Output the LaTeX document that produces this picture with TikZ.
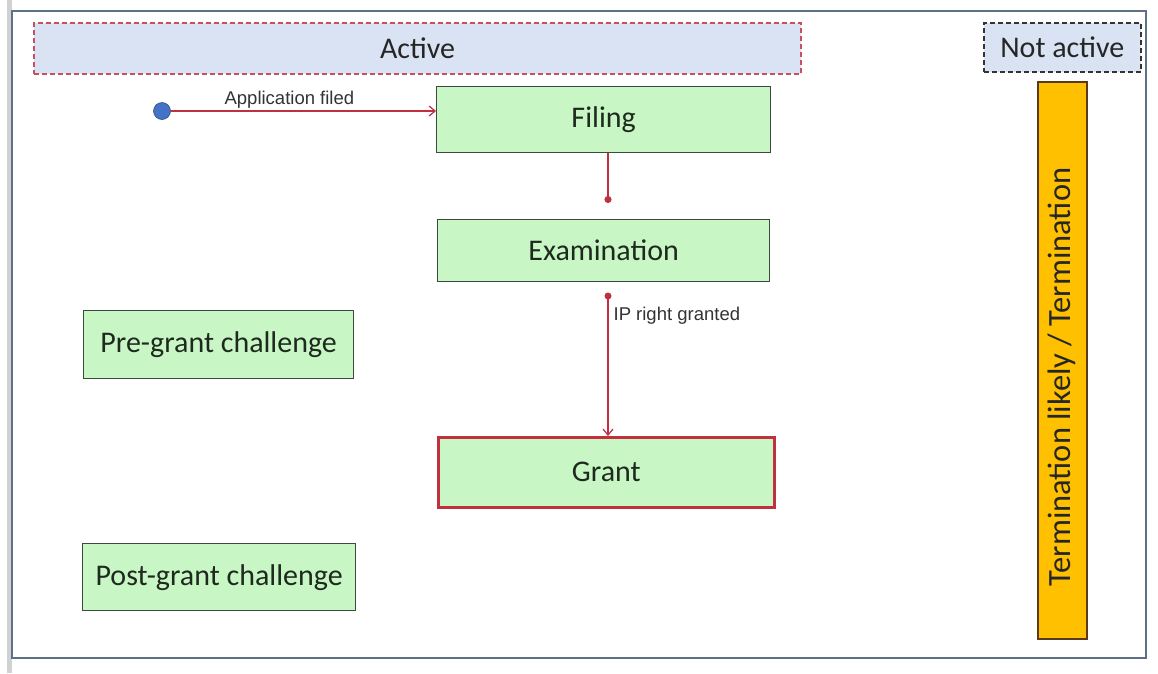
\documentclass[tikz,border=0pt]{standalone}
\usepackage{fontspec}
\setmainfont{Carlito}
\newfontfamily\arialf{Liberation Sans}
\usetikzlibrary{arrows.meta}
\definecolor{boxgreen}{HTML}{C8F7C5}
\definecolor{boxedge}{HTML}{3F4A3F}
\definecolor{activefill}{HTML}{DAE3F3}
\definecolor{dashred}{HTML}{C8505E}
\definecolor{linered}{HTML}{C0303F}
\definecolor{framec}{HTML}{5E7087}
\definecolor{termfill}{HTML}{FFC000}
\definecolor{termedge}{HTML}{5A3A1A}
\definecolor{dotblue}{HTML}{4472C4}
\definecolor{txt}{HTML}{1E2A1E}
\tikzset{
  x=1pt, y=-1pt,
  state/.style={draw=boxedge, line width=1.3pt, fill=boxgreen, text=txt, font=\fontsize{30}{34}\selectfont, inner sep=0pt, anchor=north west},
  conn/.style={draw=linered, line width=1.2pt},
  small/.style={font=\arialf\fontsize{18.5}{21}\selectfont, text=black!80, inner sep=1pt},
}
\begin{document}
\begin{tikzpicture}
\useasboundingbox (0,0) rectangle (1158,673);
\fill[white] (0,0) rectangle (1158,673);
% outer strip and frame
\fill[black!18] (7,0) rectangle (12,673);
\draw[framec, line width=1.6pt] (12,11) rectangle (1146,658);
% Active band
\node[draw=dashred, line width=2pt, dash pattern=on 5pt off 3pt, fill=activefill, minimum width=767pt, minimum height=51pt, anchor=north west, inner sep=0pt, font=\fontsize{30}{34}\selectfont, text=black!85] (active) at (33,22) {Active};
% Not active
\node[draw=black!80, line width=1.6pt, dash pattern=on 5pt off 3pt, fill=activefill, minimum width=157pt, minimum height=49pt, anchor=north west, inner sep=0pt, font=\fontsize{30}{34}\selectfont, text=black!85] (notactive) at (983,22) {Not active};
% termination bar
\node[draw=termedge, line width=1.5pt, fill=termfill, minimum width=49pt, minimum height=557pt, anchor=north west, inner sep=0pt] (term) at (1037,81) {};
\node[rotate=90, font=\fontsize{32.5}{36}\selectfont, text=black!85] (termtxt) at (1062,377) {Termination likely / Termination};
% states
\node[state, minimum width=334pt, minimum height=66pt] (filing) at (436,86) {Filing};
\node[state, minimum width=332pt, minimum height=62pt] (exam) at (437,219) {Examination};
\node[state, draw=linered, line width=2.6pt, minimum width=336pt, minimum height=70pt] (grant) at (437,436) {Grant};
\node[state, minimum width=270pt, minimum height=68pt] (pre) at (83,310) {Pre-grant challenge};
\node[state, minimum width=273pt, minimum height=67pt] (post) at (82,543) {Post-grant challenge};
% start dot
\node[circle, fill=dotblue, draw=dotblue!70!black, line width=0.6pt, minimum size=17pt, inner sep=0pt] (start) at (162,111) {};
\draw[conn, -{Straight Barb[length=6pt,width=10pt]}] (start) -- (filing.west |- start) node[small, midway, above=1pt, xshift=-14pt] {Application filed};
% filing -> exam
\coordinate (d1) at (608,203);
\draw[conn, -{Circle[length=7pt]}] (filing.south -| d1) -- (d1);
% exam -> grant
\coordinate (d2) at (608,296);
\fill[linered] (d2) circle (3.5pt);
\draw[conn, -{Straight Barb[length=6pt,width=10pt]}] (d2) -- (grant.north -| d2) node[small, pos=0.14, right=4pt] {IP right granted};
\end{tikzpicture}
\end{document}
